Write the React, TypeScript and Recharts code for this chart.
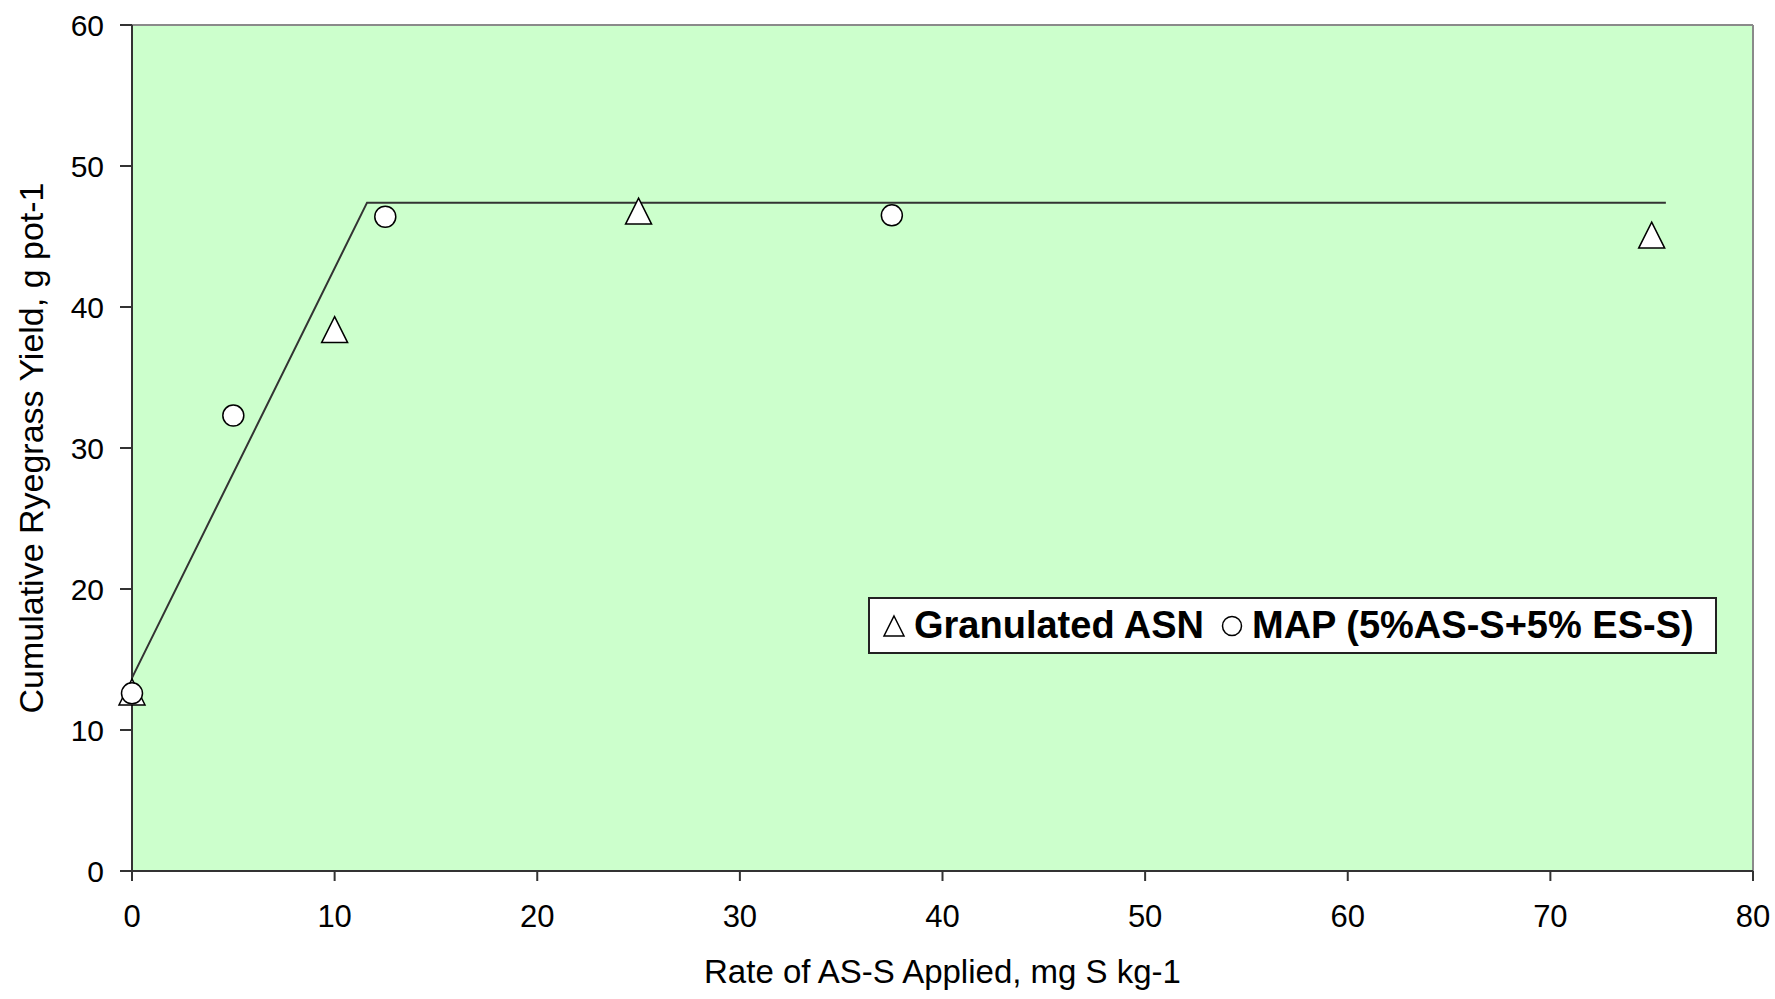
import React from "react"
import {
  ScatterChart,
  Scatter,
  XAxis,
  YAxis,
  CartesianGrid,
  ReferenceLine,
} from "recharts"

const asnRate = [0, 10, 25, 75]
const asnYield = [12.7, 38.4, 46.8, 45.1]
const mapRate = [0, 5, 12.5, 37.5]
const mapYield = [12.6, 32.3, 46.4, 46.5]
const fitRate = [0, 11.6, 75.7]
const fitYield = [13.7, 47.4, 47.4]

const xTicks = [0, 10, 20, 30, 40, 50, 60, 70, 80]
const yTicks = [0, 10, 20, 30, 40, 50, 60]

const asnLabel = "Granulated ASN"
const mapLabel = "MAP (5%AS-S+5% ES-S)"

const toPoints = (xs: number[], ys: number[]) => xs.map((x, i) => ({ x, y: ys[i] }))

const asnData = toPoints(asnRate, asnYield)
const mapData = toPoints(mapRate, mapYield)
const fitData = toPoints(fitRate, fitYield)

const FONT = "'Liberation Sans', Arial, sans-serif"

const Triangle = (props: any) => {
  const { cx, cy } = props
  if (cx == null || cy == null) return <g />
  const w = 26
  const h = 26
  return (
    <polygon
      points={`${cx},${cy - h / 2} ${cx + w / 2},${cy + h / 2} ${cx - w / 2},${cy + h / 2}`}
      fill="#fff"
      stroke="#000"
      strokeWidth={1.5}
    />
  )
}

const Ring = (props: any) => {
  const { cx, cy } = props
  if (cx == null || cy == null) return <g />
  return <circle cx={cx} cy={cy} r={10.5} fill="#fff" stroke="#000" strokeWidth={1.5} />
}

// legend sits inside the plot, lower right
const LegendBox = () => (
  <div
    style={{
      position: "absolute",
      left: 868,
      top: 597,
      width: 849,
      height: 57,
      boxSizing: "border-box",
      border: "2px solid #222",
      background: "#fff",
      display: "flex",
      alignItems: "center",
      fontFamily: FONT,
      fontWeight: "bold",
      fontSize: 38,
      color: "#000",
      paddingLeft: 12,
      whiteSpace: "nowrap",
    }}
  >
    <svg width={24} height={24} style={{ marginRight: 8 }}>
      <polygon points="12,2 22,22 2,22" fill="#fff" stroke="#000" strokeWidth={1.5} />
    </svg>
    <span>{asnLabel}</span>
    <svg width={24} height={24} style={{ marginLeft: 16, marginRight: 8 }}>
      <circle cx={12} cy={12} r={9.5} fill="#fff" stroke="#000" strokeWidth={1.5} />
    </svg>
    <span>{mapLabel}</span>
  </div>
)

export default function App() {
  return (
    <div style={{ position: "absolute", left: 0, top: 0, width: 1775, height: 999, background: "#fff" }}>
      <ScatterChart width={1775} height={999} margin={{ top: 25, right: 22, left: 0, bottom: 0 }}>
        <CartesianGrid horizontal={false} vertical={false} fill="#CCFFCC" />
        <XAxis
          type="number"
          dataKey="x"
          domain={[0, 80]}
          ticks={xTicks}
          height={128}
          tickSize={10}
          tickMargin={24}
          stroke="#333"
          strokeWidth={2}
          tick={{ fill: "#000", fontSize: 31, fontFamily: FONT }}
          label={{
            content: (p: any) => {
              const vb = p.viewBox
              return (
                <text
                  x={vb.x + vb.width / 2}
                  y={vb.y + 112}
                  textAnchor="middle"
                  fontSize={33}
                  fontFamily={FONT}
                  fill="#000"
                >
                  Rate of AS-S Applied, mg S kg-1
                </text>
              )
            },
          }}
        />
        <YAxis
          type="number"
          dataKey="y"
          domain={[0, 60]}
          ticks={yTicks}
          width={132}
          tickSize={12}
          tickMargin={16}
          stroke="#333"
          strokeWidth={2}
          tick={{ fill: "#000", fontSize: 30, fontFamily: FONT }}
          label={{
            content: (p: any) => {
              const vb = p.viewBox
              const cy = vb.y + vb.height / 2
              return (
                <text
                  transform={`translate(43, ${cy}) rotate(-90)`}
                  textAnchor="middle"
                  fontSize={34}
                  fontFamily={FONT}
                  fill="#000"
                >
                  Cumulative Ryegrass Yield, g pot-1
                </text>
              )
            },
          }}
        />
        <ReferenceLine y={60} stroke="#8a8a8a" strokeWidth={2} />
        <ReferenceLine x={80} stroke="#8a8a8a" strokeWidth={2} />
        <Scatter
          name="fit"
          data={fitData}
          line={{ stroke: "#333", strokeWidth: 2 }}
          shape={() => <g />}
          isAnimationActive={false}
          legendType="none"
        />
        <Scatter name={asnLabel} data={asnData} shape={<Triangle />} isAnimationActive={false} />
        <Scatter name={mapLabel} data={mapData} shape={<Ring />} isAnimationActive={false} />
      </ScatterChart>
      <LegendBox />
    </div>
  )
}
